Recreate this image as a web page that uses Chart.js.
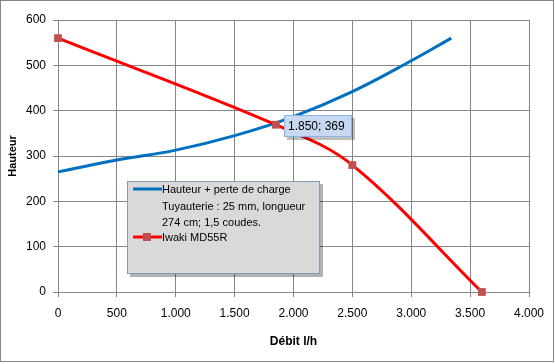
<!DOCTYPE html>
<html>
<head>
<meta charset="utf-8">
<script src="https://cdn.jsdelivr.net/npm/chart.js@4"></script>
<style>
  html, body { margin: 0; padding: 0; background: #fff; }
  #wrap { width: 555px; height: 364px; position: relative; }
</style>
</head>
<body>
<div id="wrap"><canvas id="chart" width="555" height="364"></canvas></div>
<script>
// Courbe réseau (hauteur + perte de charge)
const reseauDebit = [0, 500, 1000, 1500, 2000, 2500, 3000, 3340];
const reseauHauteur = [265, 291, 313, 345, 387, 442, 510, 560];

// Courbe pompe Iwaki MD55R
const pompeDebit = [0, 1850, 2500, 3600];
const pompeHauteur = [560, 369, 280, 0];

const legendLabels = [
    ['Hauteur + perte de charge', 'Tuyauterie : 25 mm, longueur', '274 cm; 1,5 coudes.'],
    ['Iwaki MD55R']
];
const pointLabel = '1.850; 369';

const FONT = '"Liberation Sans", Arial, sans-serif';
const BLUE = '#0070c0';
const RED = '#ff0000';
const MARKER = '#c0504d';

const fmtMilliers = v => v >= 1000 ? Math.floor(v / 1000) + '.' + String(v % 1000).padStart(3, '0') : String(v);

const toPoints = (xs, ys) => xs.map((x, i) => ({ x: x, y: ys[i] }));

// cadre, légende et étiquette de point dessinés à la main (style Excel)
const excelDecor = {
    id: 'excelDecor',
    afterDatasetsDraw(chart) {
        const ctx = chart.ctx;

        // étiquette de donnée sur le 2e point de la pompe
        const p = chart.getDatasetMeta(1).data[1];
        if (p) {
            const bx = Math.round(p.x) + 8, by = Math.round(p.y) - 10, bw = 68, bh = 22;
            ctx.save();
            ctx.fillStyle = 'rgba(0,0,0,0.25)';
            ctx.fillRect(bx + 3, by + 3, bw, bh);
            ctx.fillStyle = '#c6d9f1';
            ctx.fillRect(bx, by, bw, bh);
            ctx.strokeStyle = '#8eb4e3';
            ctx.lineWidth = 1;
            ctx.strokeRect(bx + 0.5, by + 0.5, bw - 1, bh - 1);
            ctx.fillStyle = '#000';
            ctx.font = '12px ' + FONT;
            ctx.textBaseline = 'middle';
            ctx.fillText(pointLabel, bx + 4, by + bh / 2 + 1);
            ctx.restore();
        }

        // légende
        const lx = 127, ly = 181, lw = 193, lh = 93;
        ctx.save();
        ctx.fillStyle = 'rgba(0,0,0,0.3)';
        ctx.fillRect(lx + 3, ly + 3, lw, lh);
        ctx.fillStyle = '#d9d9d9';
        ctx.fillRect(lx, ly, lw, lh);
        ctx.strokeStyle = '#7f9db9';
        ctx.lineWidth = 1;
        ctx.strokeRect(lx + 0.5, ly + 0.5, lw - 1, lh - 1);

        ctx.font = '11px ' + FONT;
        ctx.textBaseline = 'middle';
        ctx.fillStyle = '#000';

        // série 1
        ctx.strokeStyle = BLUE;
        ctx.lineWidth = 3;
        ctx.beginPath();
        ctx.moveTo(lx + 6, ly + 8);
        ctx.lineTo(lx + 35, ly + 8);
        ctx.stroke();
        legendLabels[0].forEach((t, i) => ctx.fillText(t, lx + 35, ly + 9 + i * 16.5));

        // série 2
        const ry = ly + 56;
        ctx.strokeStyle = RED;
        ctx.beginPath();
        ctx.moveTo(lx + 6, ry);
        ctx.lineTo(lx + 35, ry);
        ctx.stroke();
        ctx.fillStyle = MARKER;
        ctx.fillRect(lx + 16, ry - 4, 8, 8);
        ctx.fillStyle = '#000';
        ctx.fillText(legendLabels[1][0], lx + 35, ry + 1);

        // bordure du graphique
        ctx.strokeStyle = '#868686';
        ctx.lineWidth = 1;
        ctx.strokeRect(0.5, 0.5, 553, 361);
        ctx.restore();
    }
};

new Chart(document.getElementById('chart'), {
    type: 'line',
    data: {
        datasets: [{
            label: legendLabels[0].join(' '),
            data: toPoints(reseauDebit, reseauHauteur),
            borderColor: BLUE,
            borderWidth: 3,
            pointRadius: 0,
            tension: 0.4,
            fill: false,
            clip: false,
            order: 2
        }, {
            label: legendLabels[1][0],
            data: toPoints(pompeDebit, pompeHauteur),
            borderColor: RED,
            borderWidth: 3,
            pointStyle: 'rect',
            pointRadius: 5.5,
            pointBackgroundColor: MARKER,
            pointBorderColor: MARKER,
            pointBorderWidth: 0,
            tension: 0.35,
            fill: false,
            clip: false,
            order: 1
        }]
    },
    options: {
        responsive: false,
        animation: false,
        layout: { padding: { top: 20, right: 26, left: 0, bottom: 0 } },
        plugins: { legend: { display: false }, tooltip: { enabled: false } },
        scales: {
            x: {
                type: 'linear',
                min: 0,
                max: 4000,
                afterFit: s => { s.height = 72; },
                ticks: {
                    stepSize: 500,
                    color: '#000',
                    font: { family: FONT, size: 12 },
                    padding: 9,
                    maxRotation: 0,
                    callback: v => fmtMilliers(v)
                },
                grid: { color: '#868686', tickLength: 5 },
                border: { color: '#868686' },
                title: {
                    display: true,
                    text: 'Débit l/h',
                    color: '#000',
                    font: { family: FONT, size: 12, weight: 'bold' },
                    padding: { top: 0, bottom: 15 }
                }
            },
            y: {
                min: 0,
                max: 600,
                afterFit: s => { s.width = 58; },
                ticks: {
                    stepSize: 100,
                    color: '#000',
                    font: { family: FONT, size: 12 },
                    padding: 7
                },
                grid: { color: '#868686', tickLength: 5 },
                border: { color: '#868686' },
                title: {
                    display: true,
                    text: 'Hauteur',
                    color: '#000',
                    font: { family: FONT, size: 11, weight: 'bold' },
                    padding: { top: 6, bottom: 0 }
                }
            }
        }
    },
    plugins: [excelDecor]
});
</script>
</body>
</html>
